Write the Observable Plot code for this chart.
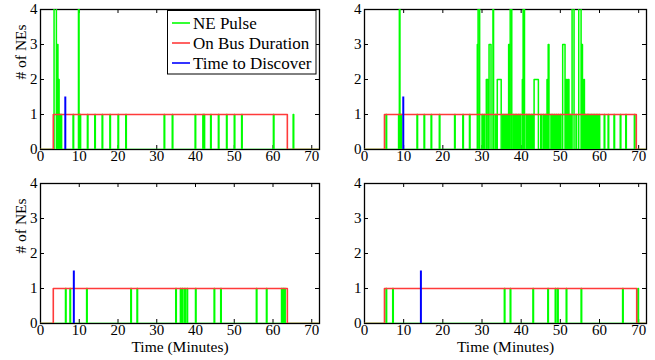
<!DOCTYPE html>
<html><head><meta charset="utf-8">
<script src="https://cdn.jsdelivr.net/npm/d3@7"></script>
<script src="https://cdn.jsdelivr.net/npm/@observablehq/plot@0.6"></script>
<style>
body{margin:0;background:#fff;}
#chart{position:relative;width:655px;height:360px;font-family:"Liberation Serif","Times New Roman",serif;overflow:hidden;}
#chart > svg{position:absolute;}
</style></head><body><div id="chart"></div>
<script>
// ---- data ----
const xTicks = [0, 10, 20, 30, 40, 50, 60, 70];
const yTicks = [0, 1, 2, 3, 4];
const xMax = 72;
const seriesNames = ["NE Pulse", "On Bus Duration", "Time to Discover"];
const seriesColors = ["#00ff00", "#ff3a3a", "#0000ff"];
const xTitle = "Time (Minutes)";
const yTitle = "# of NEs";

// NE pulses: [start time (min), height, optional width (min)]
const pulses1 = [[3.5,5,0.6],[4.4,3,0.1],[4.7,2,0.1],[5.0,1],[5.3,1],[8.4,1],[9.8,5],[10.2,1],[12.1,1],[14.0,1],[15.9,1],[17.9,1],[20.0,1],[22.0,1],[31.9,1],[34.0,1],[39.9,1],[41.9,1],[42.2,1],[43.9,1],[45.9,1],[48.0,1],[50.0,1],[51.9,1],[60.1,1],[65.2,1]];
const pulses2 = [[5.5,1],[8.7,1],[8.9,5],[9.3,1],[13.4,1],[15.2,1],[17.0,1],[19.1,1],[23.0,1],[25.1,1],[26.8,1],[28.8,3],[29.0,5,0.4],[30.0,1],[30.5,1],[31.1,2,0.4],[31.8,3,0.5],[32.8,5],[33.4,1],[33.9,2,1.0],[35.3,1],[35.8,1],[36.3,1],[36.8,3],[37.2,5,0.4],[38.0,1],[38.4,1],[38.8,1],[39.3,1],[39.7,1],[40.3,2,0.1],[40.5,5,0.35],[41.3,1],[41.7,1],[42.1,1],[42.6,1],[43.0,1],[43.3,2,1.1],[45.0,1],[45.6,1],[46.1,1],[46.6,2],[46.9,3,0.2],[47.6,1],[48.0,1],[48.5,1],[49.0,1],[49.5,1],[50.0,1],[50.6,3,0.6],[51.5,2,0.1],[51.9,2,0.3],[52.5,1],[53.0,5,0.5],[54.0,1],[54.7,5,0.6],[55.5,3],[56.0,2],[56.4,1],[56.8,1],[57.1,1],[57.5,1],[57.9,1],[58.3,1],[58.7,1],[59.1,1],[59.5,1],[59.9,1],[61.2,1],[62.2,1],[63.7,1],[65.3,1],[66.7,1],[68.9,1]];
const pulses3 = [[6.45,1],[7.6,1],[11.9,1],[23.3,1],[24.9,1],[34.9,1],[36.1,1],[36.6,1],[37.2,1],[37.8,1],[40.0,1],[44.8,1],[46.5,1],[55.7,1],[58.3,1],[62.2,1],[62.6,1],[63.0,1]];
const pulses4 = [[5.5,1],[7.2,1],[35.7,1],[37.2,1],[43.0,1],[46.8,1],[48.7,1],[49.3,1],[51.5,1],[55.3,1],[65.9,1],[69.8,1]];

const busStart = [3.3, 5.1, 3.3, 5.1];
const busEnd = [63.7, 69.4, 63.7, 69.5];
const discoverTime = [6.4, 9.9, 8.6, 14.4];
const discoverHeight = 1.5;
const pulseWidth = 0.15;

// ---- layout ----
const panels = [
  {pulses: pulses1, left: 0,   top: 0,   width: 327, height: 175, mL: 40, mR: 8, mT: 9, mB: 26, xl: false, yl: true},
  {pulses: pulses2, left: 327, top: 0,   width: 328, height: 175, mL: 37, mR: 9, mT: 9, mB: 26, xl: false, yl: false},
  {pulses: pulses3, left: 0,   top: 174, width: 327, height: 186, mL: 40, mR: 8, mT: 9, mB: 37, xl: true,  yl: true},
  {pulses: pulses4, left: 327, top: 174, width: 328, height: 186, mL: 37, mR: 9, mT: 9, mB: 37, xl: true,  yl: false}
];

function greenSeries(pulses) {
  const pts = [{t: 0, v: 0}];
  [...pulses].sort((a, b) => a[0] - b[0]).forEach(([t, h, w = pulseWidth]) => {
    pts.push({t, v: 0}, {t, v: h}, {t: t + w, v: h}, {t: t + w, v: 0});
  });
  pts.push({t: xMax, v: 0});
  return pts;
}
function redSeries(s, e) {
  return [{t: 0, v: 0}, {t: s, v: 0}, {t: s, v: 1}, {t: e, v: 1}, {t: e, v: 0}, {t: xMax, v: 0}];
}

const chart = document.getElementById("chart");
panels.forEach((p, i) => {
  const fh = p.height - p.mT - p.mB, fw = p.width - p.mL - p.mR;
  const marks = [
    Plot.frame({stroke: "black", strokeWidth: 1.3}),
    Plot.ruleX(xTicks, {x: d => d, insetTop: fh - 4, stroke: "black"}),
    Plot.ruleX(xTicks, {x: d => d, insetBottom: fh - 4, stroke: "black"}),
    Plot.ruleY(yTicks, {y: d => d, insetRight: fw - 4, stroke: "black"}),
    Plot.ruleY(yTicks, {y: d => d, insetLeft: fw - 4, stroke: "black"}),
    Plot.axisX({ticks: xTicks, tickSize: 0, tickPadding: 1, label: null, fontSize: 15, tickFormat: d => String(d)}),
    Plot.axisY({ticks: yTicks, tickSize: 0, tickPadding: 3, label: null, fontSize: 15, tickFormat: d => String(d)}),
    Plot.line(greenSeries(p.pulses), {x: "t", y: "v", stroke: seriesColors[0], strokeWidth: 1.5, clip: true}),
    Plot.line(redSeries(busStart[i], busEnd[i]), {x: "t", y: "v", stroke: seriesColors[1], strokeWidth: 1.6, clip: true}),
    Plot.ruleX([discoverTime[i]], {x: d => d, y1: 0, y2: discoverHeight, stroke: seriesColors[2], strokeWidth: 2})
  ];
  if (p.xl) marks.push(Plot.text([xTitle], {frameAnchor: "bottom", dy: 28.5, fontSize: 15.5, fill: "black"}));
  if (p.yl) marks.push(Plot.text([yTitle], {frameAnchor: "left", rotate: -90, dx: -19, fontSize: 15.5, fill: "black"}));
  const svg = Plot.plot({
    width: p.width, height: p.height,
    marginLeft: p.mL, marginRight: p.mR, marginTop: p.mT, marginBottom: p.mB,
    x: {domain: [0, xMax]},
    y: {domain: [0, 4]},
    style: {fontFamily: "Liberation Serif, Times New Roman, serif", fontSize: "15px", color: "black", background: "transparent", overflow: "visible"},
    marks
  });
  svg.style.left = p.left + "px";
  svg.style.top = p.top + "px";
  chart.appendChild(svg);
});

// ---- legend (top-left panel) ----
const ns = "http://www.w3.org/2000/svg";
const leg = document.createElementNS(ns, "svg");
leg.setAttribute("width", 150); leg.setAttribute("height", 65);
leg.style.left = "167px"; leg.style.top = "10px";
const rect = document.createElementNS(ns, "rect");
rect.setAttribute("x", 0.5); rect.setAttribute("y", 0.5); rect.setAttribute("width", 148.5); rect.setAttribute("height", 63.5);
rect.setAttribute("fill", "white"); rect.setAttribute("stroke", "black"); rect.setAttribute("stroke-width", 1);
leg.appendChild(rect);
seriesNames.forEach((name, k) => {
  const y = 13 + k * 20;
  const ln = document.createElementNS(ns, "line");
  ln.setAttribute("x1", 5); ln.setAttribute("x2", 23); ln.setAttribute("y1", y); ln.setAttribute("y2", y);
  ln.setAttribute("stroke", seriesColors[k]); ln.setAttribute("stroke-width", 1.6);
  leg.appendChild(ln);
  const tx = document.createElementNS(ns, "text");
  tx.setAttribute("x", 26); tx.setAttribute("y", y); tx.setAttribute("dy", "0.35em");
  tx.setAttribute("font-family", "Liberation Serif, Times New Roman, serif");
  tx.setAttribute("font-size", 17);
  tx.textContent = name;
  leg.appendChild(tx);
});
chart.appendChild(leg);
</script></body></html>
